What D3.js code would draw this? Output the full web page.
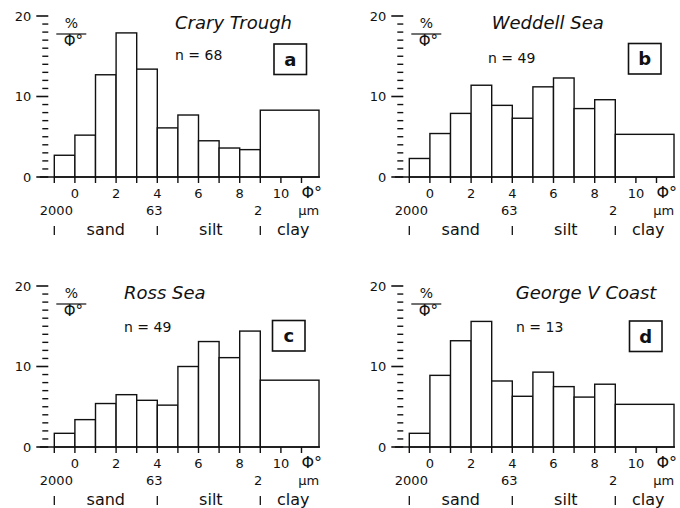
<!DOCTYPE html>
<meta charset="utf-8">
<script src="https://d3js.org/d3.v7.min.js"></script>
<style>
  body { margin: 0; background: #fff; }
  text { font-family: "DejaVu Sans", sans-serif; fill: #111; }
</style>
<svg id="chart" width="680" height="508"></svg>
<script>

  // Data (% per phi interval)
  var panelLetters = ["a", "b", "c", "d"];
  var regions = ["Crary Trough", "Weddell Sea", "Ross Sea", "George V Coast"];
  var sampleCounts = [68, 49, 49, 13];
  var binEdges = [-1, 0, 1, 2, 3, 4, 5, 6, 7, 8, 9, 11.85];
  var craryTrough  = [2.7, 5.2, 12.7, 17.9, 13.4, 6.1, 7.7, 4.5, 3.6, 3.4, 8.3];
  var weddellSea   = [2.3, 5.4, 7.9, 11.4, 8.9, 7.3, 11.2, 12.3, 8.5, 9.6, 5.3];
  var rossSea      = [1.7, 3.4, 5.4, 6.5, 5.8, 5.2, 10.0, 13.1, 11.1, 14.4, 8.3];
  var georgeVCoast = [1.7, 8.9, 13.2, 15.6, 8.2, 6.3, 9.3, 7.5, 6.2, 7.8, 5.3];
  var phiTickLabels = [0, 2, 4, 6, 8, 10];
  var yTickLabels = [0, 10, 20];
  var umLabels = ["2000", "63", "2"];
  var umPhi = [-0.9, 3.85, 8.9];
  var classNames = ["sand", "silt", "clay"];
  var classPhi = [1.5, 6.6, 10.6];
  var classBounds = [-1, 4, 9];

  var series = [craryTrough, weddellSea, rossSea, georgeVCoast];

  var svg = d3.select("#chart");

  // panel placement: pixel of phi = -1 and of 0 %
  var colX = [54.3, 409.3];
  var rowY = [177, 447];

  series.forEach(function (values, i) {
    var x0 = colX[i % 2], y0 = rowY[Math.floor(i / 2)];

    var x = d3.scaleLinear().domain([-1, 9]).range([x0, x0 + 206]);
    var y = d3.scaleLinear().domain([0, 20]).range([y0, y0 - 161]);

    var g = svg.append("g");

    // bars
    var bins = values.map(function (v, k) { return { x0: binEdges[k], x1: binEdges[k + 1], v: v }; });
    g.selectAll("rect")
      .data(bins)
      .enter()
      .append("rect")
      .attr("x", function (d) { return x(d.x0); })
      .attr("y", function (d) { return y(d.v); })
      .attr("width", function (d) { return x(d.x1) - x(d.x0); })
      .attr("height", function (d) { return y(0) - y(d.v); })
      .attr("fill", "#fff")
      .attr("stroke", "#111")
      .attr("stroke-width", 1.4);

    // y axis: just tick marks, every unit, long at 0/10/20
    var ax = x(-1) - 6;
    g.selectAll("line.ytick")
      .data(d3.range(0, 21))
      .enter()
      .append("line")
      .attr("x1", function (d) { return d % 10 === 0 ? ax - 12 : ax - 6; })
      .attr("x2", ax)
      .attr("y1", function (d) { return y(d); })
      .attr("y2", function (d) { return y(d); })
      .attr("stroke", "#111")
      .attr("stroke-width", function (d) { return d % 10 === 0 ? 1.6 : 1.4; });

    g.selectAll("text.ylab")
      .data(yTickLabels)
      .enter()
      .append("text")
      .attr("x", ax - 17)
      .attr("y", function (d) { return y(d) + 4.5; })
      .attr("text-anchor", "end")
      .style("font-size", "13px")
      .text(function (d) { return d; });

    // x axis baseline and ticks
    g.append("line")
      .attr("x1", x(-1.7)).attr("x2", x(11.9))
      .attr("y1", y0).attr("y2", y0)
      .attr("stroke", "#111").attr("stroke-width", 1.6);

    g.selectAll("line.xtick")
      .data(d3.range(-1, 12))
      .enter()
      .append("line")
      .attr("x1", function (d) { return x(d); })
      .attr("x2", function (d) { return x(d); })
      .attr("y1", y0)
      .attr("y2", y0 + 6)
      .attr("stroke", "#111")
      .attr("stroke-width", 1.4);

    g.selectAll("text.xlab")
      .data(phiTickLabels)
      .enter()
      .append("text")
      .attr("x", function (d) { return x(d); })
      .attr("y", y0 + 21)
      .attr("text-anchor", "middle")
      .style("font-size", "13px")
      .text(function (d) { return d; });

    g.append("text")
      .attr("x", x(11.5)).attr("y", y0 + 21)
      .attr("text-anchor", "middle")
      .style("font-size", "16px")
      .text("Φ°");

    // micrometre row
    g.selectAll("text.um")
      .data(umLabels)
      .enter()
      .append("text")
      .attr("x", function (d, k) { return x(umPhi[k]); })
      .attr("y", y0 + 38)
      .attr("text-anchor", "middle")
      .style("font-size", "13px")
      .text(function (d) { return d; });

    g.append("text")
      .attr("x", x(11.35)).attr("y", y0 + 38)
      .attr("text-anchor", "middle")
      .style("font-size", "13px")
      .text("µm");

    // grain size classes
    g.selectAll("line.sep")
      .data(classBounds)
      .enter()
      .append("line")
      .attr("x1", function (d) { return x(d); })
      .attr("x2", function (d) { return x(d); })
      .attr("y1", y0 + 49)
      .attr("y2", y0 + 58)
      .attr("stroke", "#111")
      .attr("stroke-width", 1.3);

    g.selectAll("text.cls")
      .data(classNames)
      .enter()
      .append("text")
      .attr("x", function (d, k) { return x(classPhi[k]); })
      .attr("y", y0 + 58)
      .attr("text-anchor", "middle")
      .style("font-size", "16px")
      .text(function (d) { return d; });

    // unit label %/Φ°
    var ux = x(-1) + 17, uy = y(20);
    g.append("text")
      .attr("x", ux).attr("y", uy + 12)
      .attr("text-anchor", "middle")
      .style("font-size", "14px")
      .text("%");
    g.append("line")
      .attr("x1", ux - 15).attr("x2", ux + 15)
      .attr("y1", uy + 18).attr("y2", uy + 18)
      .attr("stroke", "#111").attr("stroke-width", 1.2);
    g.append("text")
      .attr("x", ux + 2).attr("y", uy + 30)
      .attr("text-anchor", "middle")
      .style("font-size", "15px")
      .text("Φ°");

    // title, n and panel letter
    var titleX = [175, 491.7, 124, 515.7][i];
    g.append("text")
      .attr("x", titleX).attr("y", y(20) + 12.5)
      .style("font-size", "18px")
      .style("font-style", "italic")
      .text(regions[i]);

    var nX = [175, 488, 124, 516][i];
    var nY = [60, 63, 331.5, 331.5][i];
    g.append("text")
      .attr("x", nX).attr("y", nY)
      .style("font-size", "14px")
      .text("n = " + sampleCounts[i]);

    var boxX = [274, 628.5, 272.5, 629.5][i];
    var boxY = [44, 43.5, 320.5, 321][i];
    g.append("rect")
      .attr("x", boxX).attr("y", boxY)
      .attr("width", 32.5).attr("height", 30.5)
      .attr("fill", "#fff")
      .attr("stroke", "#111")
      .attr("stroke-width", 1.6);
    g.append("text")
      .attr("x", boxX + 16.25).attr("y", boxY + 21.5)
      .attr("text-anchor", "middle")
      .style("font-size", "18px")
      .style("font-weight", "bold")
      .text(panelLetters[i]);
  });

</script>
